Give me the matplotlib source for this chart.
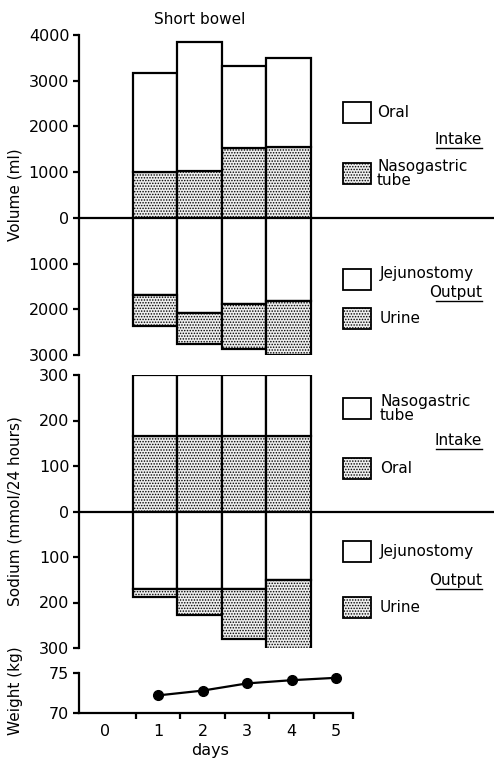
import matplotlib
matplotlib.use('Agg')
import matplotlib.pyplot as plt
from matplotlib.patches import Rectangle
from matplotlib.lines import Line2D
from matplotlib.ticker import FuncFormatter

# ---- data ----
bar_days = [1, 2, 3, 4]
vol_nasogastric = [1000, 1020, 1530, 1550]
vol_oral = [2170, 2830, 1790, 1950]
vol_jejunostomy = [1690, 2080, 1880, 1810]
vol_urine = [670, 680, 990, 1200]

na_oral = [165, 165, 165, 165]
na_nasogastric = [135, 135, 135, 135]
na_jejunostomy = [170, 170, 170, 150]
na_urine = [17, 57, 110, 157]

weight_days = [1, 2, 3, 4, 5]
weight_kg = [72.2, 72.8, 73.7, 74.1, 74.4]

day_labels = ['0', '1', '2', '3', '4', '5']

# ---- style ----
plt.rcParams['font.family'] = 'DejaVu Sans'
plt.rcParams['hatch.color'] = '#606060'
plt.rcParams['hatch.linewidth'] = 0.7
W, H = 494, 762
LW = 1.6
DOT = dict(facecolor='#eeeeee', hatch='......', edgecolor='black', linewidth=LW)
PLAIN = dict(facecolor='white', edgecolor='black', linewidth=LW)
XLIM = (-0.78, 8.55)
BAR_X = [d - 0.07 for d in bar_days]


def fx(px):
    return px / W


def fy(py):
    return 1 - py / H


fig = plt.figure(figsize=(W / 100, H / 100), dpi=100)


def base_axes(top, bottom):
    ax = fig.add_axes([fx(79), fy(bottom), 1 - fx(79), fy(top) - fy(bottom)])
    ax.set_xlim(*XLIM)
    for s in ['top', 'right', 'bottom']:
        ax.spines[s].set_visible(False)
    ax.spines['left'].set_linewidth(LW)
    ax.tick_params(axis='y', length=4, width=LW, labelsize=11.5, pad=3)
    ax.set_xticks([])
    ax.axhline(0, color='black', linewidth=LW, zorder=1)
    ax.yaxis.set_major_formatter(FuncFormatter(lambda v, p: f'{abs(v):.0f}'))
    return ax


# ---- volume panel ----
ax1 = base_axes(35, 355)
ax1.set_ylim(-3000, 4000)
ax1.set_yticks(range(-3000, 4001, 1000))
ax1.bar(BAR_X, vol_nasogastric, width=1.0, **DOT)
ax1.bar(BAR_X, vol_oral, width=1.0, bottom=vol_nasogastric, **PLAIN)
ax1.bar(BAR_X, [-v for v in vol_jejunostomy], width=1.0, **PLAIN)
ax1.bar(BAR_X, [-v for v in vol_urine], width=1.0,
        bottom=[-v for v in vol_jejunostomy], **DOT)
ax1.set_ylabel('Volume (ml)', fontsize=11)
ax1.yaxis.set_label_coords(-0.135, 0.5)
ax1.set_title('Short bowel', fontsize=11, x=fx(200 - 79) / (1 - fx(79)), pad=8)

# ---- sodium panel ----
ax2 = base_axes(375, 648)
ax2.set_ylim(-300, 300)
ax2.set_yticks(range(-300, 301, 100))
ax2.bar(BAR_X, na_oral, width=1.0, **DOT)
ax2.bar(BAR_X, na_nasogastric, width=1.0, bottom=na_oral, **PLAIN)
ax2.bar(BAR_X, [-v for v in na_jejunostomy], width=1.0, **PLAIN)
ax2.bar(BAR_X, [-v for v in na_urine], width=1.0,
        bottom=[-v for v in na_jejunostomy], **DOT)
ax2.set_ylabel('Sodium (mmol/24 hours)', fontsize=11)
ax2.yaxis.set_label_coords(-0.135, 0.5)

# ---- weight panel ----
ax3 = fig.add_axes([fx(79), fy(713), 1 - fx(79), fy(673) - fy(713)])
ax3.set_xlim(*XLIM)
ax3.set_ylim(70, 75)
for s in ['top', 'right']:
    ax3.spines[s].set_visible(False)
ax3.spines['left'].set_linewidth(LW)
ax3.spines['bottom'].set_linewidth(LW)
ax3.spines['bottom'].set_bounds(XLIM[0], 5.38)
ax3.set_yticks([70, 75])
ax3.tick_params(axis='y', length=4, width=LW, labelsize=11.5, pad=3)
ax3.set_xticks([0.5, 1.5, 2.5, 3.5, 4.5, 5.38])
ax3.set_xticklabels([])
ax3.tick_params(axis='x', length=4, width=LW, direction='out')
ax3.plot(weight_days, weight_kg, color='black', linewidth=LW,
         marker='o', markersize=7)
label_x = [-0.2, 1, 2, 3, 4, 5]
for xv, lab in zip(label_x, day_labels):
    ax3.text(xv, -0.45, lab, transform=ax3.get_xaxis_transform(),
             ha='center', va='center', fontsize=11.5)
ax3.text(fx(210), fy(750), 'days', transform=fig.transFigure,
         ha='center', va='center', fontsize=11.5)
ax3.set_ylabel('Weight (kg)', fontsize=11)
ax3.yaxis.set_label_coords(-0.135, 0.55)


# ---- legends ----
def legend_box(top_px, dotted, label, text_x=377, text_dy=0):
    box = dict(DOT) if dotted else dict(PLAIN)
    box['linewidth'] = 1.3
    fig.patches.append(Rectangle((fx(343), fy(top_px + 21)), fx(371) - fx(343),
                                 fy(top_px) - fy(top_px + 21),
                                 transform=fig.transFigure, **box))
    fig.text(fx(text_x), fy(top_px + 10.5 + text_dy), label, ha='left',
             va='center', fontsize=11, linespacing=0.85)


def heading(y_px, label):
    fig.text(fx(482), fy(y_px), label, ha='right', va='center', fontsize=11)
    fig.lines.append(Line2D([fx(436), fx(482)], [fy(y_px + 9), fy(y_px + 9)],
                            transform=fig.transFigure, color='black', linewidth=1))


legend_box(102, False, 'Oral')
heading(139, 'Intake')
legend_box(163, True, 'Nasogastric\ntube')
legend_box(269, False, 'Jejunostomy', 380, -6)
heading(292, 'Output')
legend_box(308, True, 'Urine', 380)

legend_box(398, False, 'Nasogastric\ntube', 380)
heading(440, 'Intake')
legend_box(458, True, 'Oral', 380)
legend_box(541, False, 'Jejunostomy', 380)
heading(580, 'Output')
legend_box(597, True, 'Urine', 380)

fig.savefig('out.png', dpi=100)
